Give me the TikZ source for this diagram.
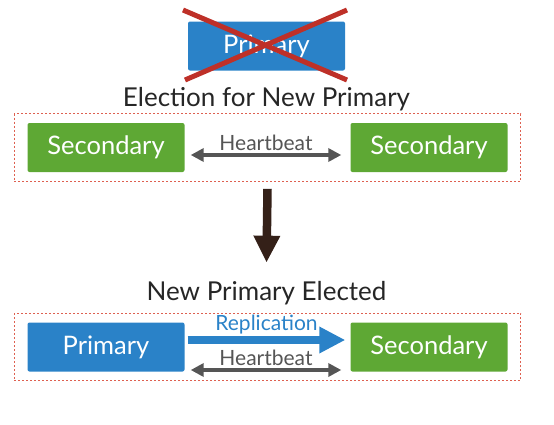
\documentclass[tikz,border=0pt]{standalone}
\usepackage{fontspec}
\setmainfont{Lato}
\usetikzlibrary{arrows.meta,fit}

\definecolor{primblue}{RGB}{42,130,200}
\definecolor{secgreen}{RGB}{94,168,52}
\definecolor{crossred}{RGB}{190,48,40}
\definecolor{dotred}{RGB}{222,96,80}
\definecolor{beatgray}{RGB}{85,85,85}
\definecolor{downbrown}{RGB}{52,32,24}

\tikzset{
  caja/.style={rectangle, rounded corners=2pt, minimum width=157pt, minimum height=49pt,
    text=white, font=\fontsize{25.5}{30}\selectfont, inner sep=0pt},
  prim/.style={caja, fill=primblue},
  sec/.style={caja, fill=secgreen},
  grupo/.style={draw=dotred, line width=1.2pt, dash pattern=on 2pt off 2pt, inner xsep=13pt, inner ysep=9pt},
  titulo/.style={font=\fontsize{26}{30}\selectfont, text=black!85},
  latido/.style={draw=beatgray, line width=3.5pt, {Triangle[width=13pt,length=13pt]}-{Triangle[width=13pt,length=13pt]}},
  etiq/.style={font=\fontsize{21}{25}\selectfont, inner sep=1pt}
}

\begin{document}
\begin{tikzpicture}[x=1pt,y=-1pt]
  \useasboundingbox (0,0) rectangle (554,424);

  % Primario caido
  \node[prim] (viejo) at (266.5,46) {Primary};
  \draw[crossred, line width=5pt] (183,10) -- (347,80);
  \draw[crossred, line width=5pt] (347,10) -- (185,80);

  % Eleccion
  \node[titulo] (tit1) at (266.5,99) {Election for New Primary};
  \node[sec] (sec1) at (106,147.5) {Secondary};
  \node[sec] (sec2) at (429,147.5) {Secondary};
  \node[grupo, fit=(sec1)(sec2)] (grp1) {};
  \draw[latido] ([xshift=6pt,yshift=-7.5pt]sec1.east) -- ([xshift=-9pt,yshift=-7.5pt]sec2.west)
    node[midway, above=2pt, etiq, text=beatgray] (hb1) {Heartbeat};

  % Flecha hacia abajo
  \node[titulo] (tit2) at (266.5,293) {New Primary Elected};
  \draw[downbrown, line width=8.5pt, -{Triangle[width=25pt,length=27pt]}]
    ([yshift=-7pt]grp1.south) -- ([yshift=15pt]tit2.north);

  % Nuevo primario
  \node[prim] (prim) at (106,347) {Primary};
  \node[sec] (sec3) at (429,347) {Secondary};
  \node[grupo, fit=(prim)(sec3)] (grp2) {};
  \draw[primblue, line width=8pt, -{Triangle[width=25pt,length=26pt]}]
    ([xshift=3pt,yshift=7pt]prim.east) -- ([xshift=-5pt,yshift=7pt]sec3.west)
    node[midway, above=1pt, etiq, text=primblue] (rep) {Replication};
  \draw[latido] ([xshift=6pt,yshift=-23pt]prim.east) -- ([xshift=-9pt,yshift=-23pt]sec3.west)
    node[midway, above=2pt, etiq, text=beatgray] (hb2) {Heartbeat};
\end{tikzpicture}
\end{document}
